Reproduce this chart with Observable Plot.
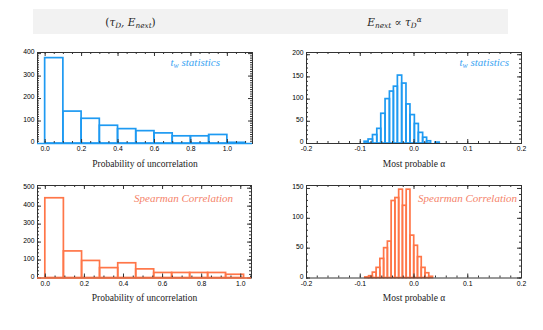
<!DOCTYPE html>
<html><head><meta charset="utf-8">
<script src="https://cdn.jsdelivr.net/npm/d3@7"></script>
<script src="https://cdn.jsdelivr.net/npm/@observablehq/plot@0.6"></script>
<style>
body{margin:0;background:#fff;}
#wrap{position:relative;width:543px;height:330px;overflow:hidden;background:#fff;}
#band{position:absolute;left:33px;top:9px;width:475px;height:25px;background:#f2f2f2;}
.hdr{position:absolute;top:22px;font-family:"DejaVu Serif",serif;font-style:italic;font-size:10.5px;color:#222;transform:translate(-50%,-50%);white-space:nowrap;line-height:14px;}
.hdr .n{font-style:normal;}
.note{position:absolute;font-family:"Liberation Serif",serif;font-style:italic;font-size:11px;white-space:nowrap;line-height:12px;transform:translate(-100%,-50%);}
sub{font-size:70%;vertical-align:-0.3em;line-height:0;}
sup{font-size:70%;vertical-align:0.5em;line-height:0;}
.plot{position:absolute;overflow:visible;}
</style></head><body>
<div id="wrap">
  <div id="band"></div>
  <div class="hdr" style="left:130.5px"><span class="n">(</span>τ<sub>D</sub>, E<sub>next</sub><span class="n">)</span></div>
  <div class="hdr" style="left:394.5px">E<sub>next</sub> <span class="n">∝</span> τ<sub>D</sub><sup>α</sup></div>
</div>
<script>
// ---- data ----
// top-left: t_w statistics, probability of uncorrelation
const twProbEdges  = [0, 0.1, 0.2, 0.3, 0.4, 0.5, 0.6, 0.7, 0.8, 0.9, 1.0, 1.1];
const twProbCounts = [380, 142, 110, 79, 64, 55, 45, 32, 32, 38, 3];
// top-right: t_w statistics, most probable alpha
const twAlphaEdges  = [-0.0919, -0.0845, -0.0763, -0.0683, -0.0609, -0.0529, -0.0448, -0.0374, -0.0300, -0.0220, -0.0140, -0.0066, 0.0016, 0.0090, 0.0170, 0.0244, 0.0318, 0.0398, 0.0479];
const twAlphaCounts = [4, 9, 19, 33, 67, 100, 117, 128, 153, 135, 88, 64, 44, 24, 13, 5, 0, 2];
// bottom-left: Spearman correlation, probability of uncorrelation
const spProbEdges  = [0, 0.095, 0.188, 0.28, 0.373, 0.465, 0.557, 0.649, 0.741, 0.833, 0.925, 1.017];
const spProbCounts = [444, 148, 95, 55, 82, 48, 28, 28, 28, 28, 18];
// bottom-right: Spearman correlation, most probable alpha
const spAlphaEdges  = [-0.0906, -0.0836, -0.0766, -0.0696, -0.0626, -0.0556, -0.0486, -0.0416, -0.0346, -0.0276, -0.0206, -0.0136, -0.0066, 0.0004, 0.0074, 0.0144, 0.0214, 0.0284, 0.0354];
const spAlphaCounts = [1, 3, 9, 17, 32, 50, 61, 129, 134, 148, 121, 148, 71, 54, 35, 17, 8, 2];

// tick labels
const probXTicks  = [0, 0.2, 0.4, 0.6, 0.8, 1.0];
const alphaXTicks = [-0.2, -0.1, 0, 0.1, 0.2];
const twProbYTicks  = [0, 100, 200, 300, 400];
const twAlphaYTicks = [0, 50, 100, 150, 200];
const spProbYTicks  = [0, 100, 200, 300, 400, 500];
const spAlphaYTicks = [0, 50, 100, 150];

const xLabelProb = "Probability of uncorrelation";
const xLabelAlpha = "Most probable α";
const noteSp = "Spearman Correlation";

const blue = "#1e9af2", blueText = "#3ba4f2";
const orange = "#ff7648", orangeText = "#f5836a";
const frameC = "#333";

function panel(o) {
  const data = o.counts.map((c, i) => ({x1: o.edges[i], x2: o.edges[i + 1], y: c}));
  const fh = o.height - o.mt - o.mb, fw = o.width - o.ml - o.mr;
  const xMinor = d3.range(Math.ceil(o.xDomain[0] / o.xMinorStep), Math.floor(o.xDomain[1] / o.xMinorStep) + 1)
    .map(k => k * o.xMinorStep);
  const yMinor = d3.range(0, o.yDomain[1], o.yMinorStep);
  const marks = [
    Plot.rect(data, {x1: "x1", x2: "x2", y1: 0, y2: "y", fill: "none", stroke: o.color, strokeWidth: 1.7}),
    Plot.frame({stroke: frameC, strokeWidth: 1}),
    Plot.tickX(xMinor, {x: d => d, stroke: frameC, insetTop: fh - 2}),
    Plot.tickX(xMinor, {x: d => d, stroke: frameC, insetBottom: fh - 2}),
    Plot.tickX(o.xTicks, {x: d => d, stroke: frameC, insetTop: fh - 4}),
    Plot.tickX(o.xTicks, {x: d => d, stroke: frameC, insetBottom: fh - 4}),
    Plot.tickY(yMinor, {y: d => d, stroke: frameC, insetLeft: fw - 2}),
    Plot.tickY(yMinor, {y: d => d, stroke: frameC, insetRight: fw - 2}),
    Plot.tickY(o.yTicks, {y: d => d, stroke: frameC, insetLeft: fw - 4}),
    Plot.tickY(o.yTicks, {y: d => d, stroke: frameC, insetRight: fw - 4}),
    Plot.axisX(o.xTicks, {tickSize: 0, tickPadding: 3, tickFormat: d => d.toFixed(1), label: null}),
    Plot.axisY(o.yTicks, {tickSize: 0, tickPadding: 3, dy: -1.5, tickFormat: d => String(d), label: null}),
    Plot.text([o.xLabel], {text: d => d, frameAnchor: "bottom", dy: 23, fontSize: 9.5, fontFamily: "Liberation Serif", fill: "#222"})
  ];
  if (o.baseline) marks.push(Plot.ruleY([0], {stroke: o.color, strokeWidth: 1.7}));
  const svg = Plot.plot({
    width: o.width, height: o.height,
    marginTop: o.mt, marginBottom: o.mb, marginLeft: o.ml, marginRight: o.mr,
    x: {domain: o.xDomain}, y: {domain: o.yDomain},
    style: {fontFamily: "Liberation Sans", fontSize: "6.8px", color: "#000", background: "transparent"},
    marks
  });
  svg.classList.add("plot");
  svg.style.left = o.left + "px";
  svg.style.top = o.top + "px";
  document.getElementById("wrap").appendChild(svg);
}

function note(html, right, cy, color) {
  const d = document.createElement("div");
  d.className = "note";
  d.innerHTML = html;
  d.style.left = right + "px";
  d.style.top = cy + "px";
  d.style.color = color;
  document.getElementById("wrap").appendChild(d);
}

panel({edges: twProbEdges, counts: twProbCounts, color: blue, baseline: true,
  xDomain: [-0.042, 1.138], yDomain: [0, 405], xTicks: probXTicks, yTicks: twProbYTicks,
  xMinorStep: 0.05, yMinorStep: 10, xLabel: xLabelProb,
  left: 0, top: 40, width: 270, height: 135, mt: 12, mb: 32, ml: 37, mr: 18});
panel({edges: twAlphaEdges, counts: twAlphaCounts, color: blue, baseline: false,
  xDomain: [-0.2, 0.2], yDomain: [0, 205], xTicks: alphaXTicks, yTicks: twAlphaYTicks,
  xMinorStep: 0.02, yMinorStep: 10, xLabel: xLabelAlpha,
  left: 270, top: 40, width: 273, height: 135, mt: 12, mb: 32, ml: 36, mr: 22});
panel({edges: spProbEdges, counts: spProbCounts, color: orange, baseline: true,
  xDomain: [-0.04, 1.055], yDomain: [0, 515], xTicks: probXTicks, yTicks: spProbYTicks,
  xMinorStep: 0.05, yMinorStep: 20, xLabel: xLabelProb,
  left: 0, top: 175, width: 270, height: 155, mt: 10, mb: 52.5, ml: 37, mr: 19});
panel({edges: spAlphaEdges, counts: spAlphaCounts, color: orange, baseline: false,
  xDomain: [-0.2, 0.2], yDomain: [0, 155], xTicks: alphaXTicks, yTicks: spAlphaYTicks,
  xMinorStep: 0.02, yMinorStep: 10, xLabel: xLabelAlpha,
  left: 270, top: 175, width: 273, height: 155, mt: 10, mb: 52.5, ml: 36, mr: 22});

const twHtml = "t<sub>w</sub> statistics";
note(twHtml, 220, 62, blueText);
note(twHtml, 509, 62, blueText);
note(noteSp, 233, 198, orangeText);
note(noteSp, 517, 198, orangeText);
</script>
</body></html>
